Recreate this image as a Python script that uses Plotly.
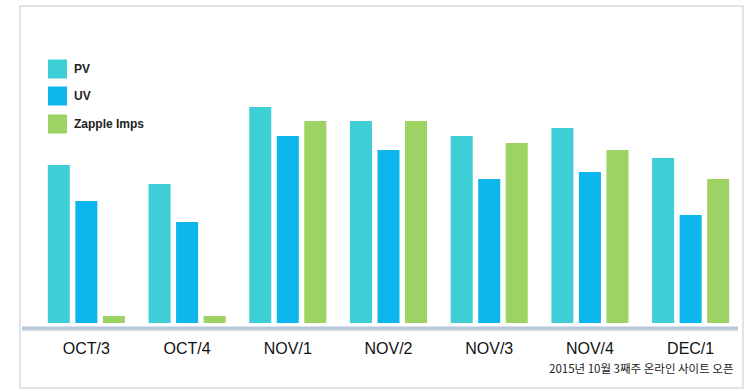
import plotly.graph_objects as go

# Weekly traffic after the October 2015 site launch
weeks = ["OCT/3", "OCT/4", "NOV/1", "NOV/2", "NOV/3", "NOV/4", "DEC/1"]
pv = [158, 139, 216, 202, 187, 195, 165]
uv = [122, 101, 187, 173, 144, 151, 108]
zapple_imps = [7, 7, 202, 202, 180, 173, 144]

series_names = ["PV", "UV", "Zapple Imps"]
series_colors = ["#3DCFD5", "#0DB7EE", "#9DD362"]
footnote = "2015년 10월 3째주 온라인 사이트 오픈"

W, H = 752, 390
ML, MR, MT, MB = 36, 11, 40, 67
PW, PH = W - ML - MR, H - MT - MB


def px_x(x):
    return (x - ML) / PW


def px_y(y):
    return (H - MB - y) / PH


fig = go.Figure()
for name, vals, col in zip(series_names, [pv, uv, zapple_imps], series_colors):
    fig.add_trace(go.Bar(x=weeks, y=vals, name=name, marker_color=col,
                         marker_line_width=0, showlegend=False))

shapes = [
    # outer panel frame
    dict(type="rect", xref="paper", yref="paper",
         x0=px_x(20), x1=px_x(743), y0=px_y(388), y1=px_y(6),
         line=dict(color="#DADADA", width=1.5), fillcolor="rgba(0,0,0,0)",
         layer="below"),
    # baseline shadow and rule
    dict(type="line", xref="paper", yref="paper",
         x0=px_x(22), x1=px_x(738), y0=px_y(330), y1=px_y(330),
         line=dict(color="#D5D8DC", width=2)),
    dict(type="line", xref="paper", yref="paper",
         x0=px_x(22), x1=px_x(738), y0=px_y(328), y1=px_y(328),
         line=dict(color="#B7C7DD", width=3)),
]

annotations = []
legend_y = [69, 96, 124]
for name, col, cy in zip(series_names, series_colors, legend_y):
    shapes.append(dict(type="rect", xref="paper", yref="paper",
                       x0=px_x(48), x1=px_x(67), y0=px_y(cy + 9.5), y1=px_y(cy - 9.5),
                       line=dict(width=0), fillcolor=col))
    annotations.append(dict(text="<b>" + name + "</b>", xref="paper", yref="paper",
                            x=px_x(72), y=px_y(cy), xanchor="left", yanchor="middle",
                            showarrow=False,
                            font=dict(family="Liberation Sans Narrow, Arial Narrow, Arial",
                                      size=12, color="#222222")))

annotations.append(dict(text=footnote, xref="paper", yref="paper",
                        x=px_x(736), y=px_y(368), xanchor="right", yanchor="middle",
                        showarrow=False,
                        font=dict(family="Noto Sans CJK KR", size=11.5, color="#222222")))

fig.update_layout(
    width=W, height=H,
    margin=dict(l=ML, r=MR, t=MT, b=MB),
    paper_bgcolor="white", plot_bgcolor="white",
    barmode="group", bargap=0.18, bargroupgap=0.2,
    shapes=shapes, annotations=annotations,
    xaxis=dict(showgrid=False, zeroline=False, showline=False, ticks="",
               ticklabelstandoff=14,
               tickfont=dict(family="Liberation Sans Narrow, Arial Narrow, Arial",
                             size=16, color="#111111")),
    yaxis=dict(range=[0, PH], showgrid=False, zeroline=False, showline=False,
               showticklabels=False, ticks=""),
)

fig.write_html("out.html")
